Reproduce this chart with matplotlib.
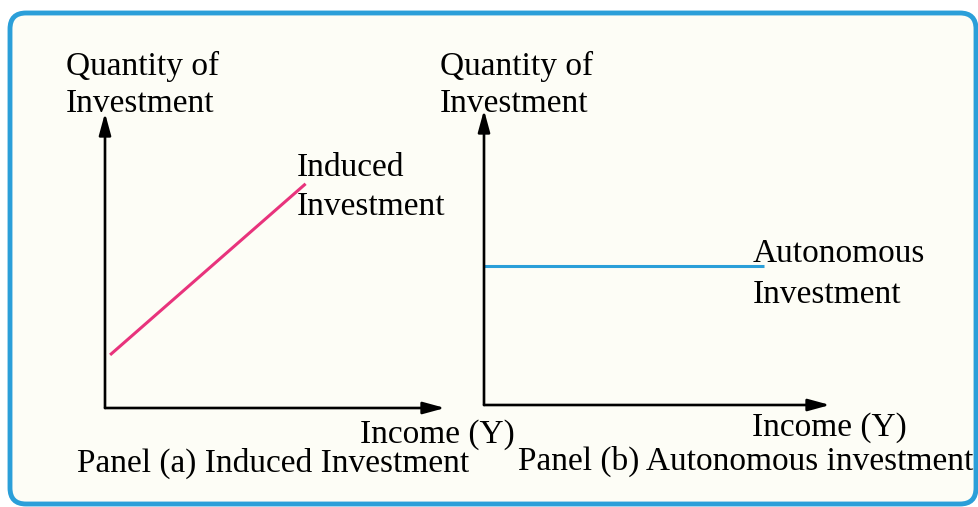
import matplotlib.pyplot as plt
from matplotlib.patches import FancyBboxPatch

W, H = 979, 507

# data (arbitrary units, 0..10 on both axes)
income_a = [0.15, 5.9]
induced_inv = [1.8, 7.6]
income_b = [0.0, 8.1]
autonomous_inv = [4.7, 4.7]

plt.rcParams['font.family'] = ['Liberation Serif', 'DejaVu Serif']
FS = 24

fig = plt.figure(figsize=(W / 100, H / 100), dpi=100)
fig.patch.set_facecolor('white')

# background layer in pixel coords (frame + labels)
bg = fig.add_axes([0, 0, 1, 1])
bg.set_xlim(0, W)
bg.set_ylim(H, 0)
bg.axis('off')
box = FancyBboxPatch((10, 13), 966, 491, boxstyle='round,pad=0,rounding_size=16',
                     fc='#fdfdf6', ec='#2b9fd9', lw=3.5)
bg.add_patch(box)


def panel(x0, y0, x1, y1):
    ax = fig.add_axes([x0 / W, 1 - y1 / H, (x1 - x0) / W, (y1 - y0) / H])
    ax.set_xlim(0, 10)
    ax.set_ylim(0, 10)
    ax.axis('off')
    ax.patch.set_alpha(0)
    arrow = dict(arrowstyle='-|>,head_length=1.1,head_width=0.3', lw=1.9,
                 color='black', shrinkA=0, shrinkB=0, mutation_scale=12)
    ax.annotate('', xy=(1, 0), xytext=(0, 0), xycoords='axes fraction', arrowprops=arrow)
    ax.annotate('', xy=(0, 1), xytext=(0, 0), xycoords='axes fraction', arrowprops=arrow)
    return ax


ax1 = panel(105, 113, 445, 408)
ax1.plot(income_a, induced_inv, color='#e8337c', lw=2.2, solid_capstyle='butt')

ax2 = panel(484, 110, 830, 405)
ax2.plot(income_b, autonomous_inv, color='#2b9fd9', lw=2.2, solid_capstyle='butt')

# labels
bg.text(66, 75, 'Quantity of', fontsize=FS, va='baseline')
bg.text(66, 112, 'Investment', fontsize=FS, va='baseline')
bg.text(440, 75, 'Quantity of', fontsize=FS, va='baseline')
bg.text(440, 112, 'Investment', fontsize=FS, va='baseline')

bg.text(297, 176, 'Induced', fontsize=FS, va='baseline')
bg.text(297, 215, 'Investment', fontsize=FS, va='baseline')
bg.text(753, 262, 'Autonomous', fontsize=FS, va='baseline')
bg.text(753, 303, 'Investment', fontsize=FS, va='baseline')

bg.text(360, 443, 'Income (Y)', fontsize=FS, va='baseline')
bg.text(752, 436, 'Income (Y)', fontsize=FS, va='baseline')
bg.text(77, 472, 'Panel (a) Induced Investment', fontsize=FS, va='baseline')
bg.text(518, 470, 'Panel (b) Autonomous investment', fontsize=FS, va='baseline')

fig.savefig('out.png', dpi=100)
